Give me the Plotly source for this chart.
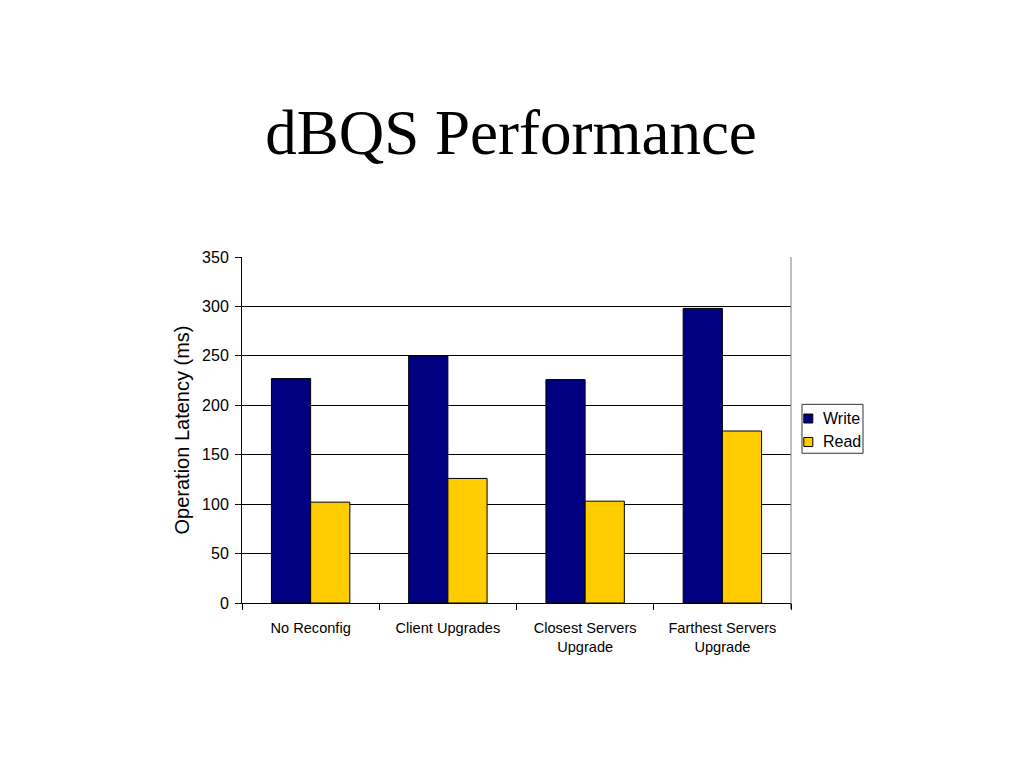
import plotly.graph_objects as go

categories = ["No Reconfig", "Client Upgrades", "Closest Servers<br>Upgrade", "Farthest Servers<br>Upgrade"]
series_names = ["Write", "Read"]
write_vals = [227, 250, 226, 298]
read_vals = [102, 126, 103, 174]
y_ticks = [0, 50, 100, 150, 200, 250, 300, 350]
colors = ["#000080", "#FFCC00"]

OFF = 8  # page body margin
L, R, T, B = 241.7 - OFF, 790.7 - OFF, 256.7 - OFF, 603.3 - OFF
W, H = 1024, 768
PW, PH = R - L, B - T

fig = go.Figure()
for name, vals, col in zip(series_names, [write_vals, read_vals], colors):
    fig.add_trace(go.Bar(name=name, x=categories, y=vals, showlegend=False,
                         marker=dict(color=col, line=dict(color="#000000", width=1))))

fig.update_layout(
    width=W, height=H,
    margin=dict(l=L, r=W - R, t=T, b=H - B, pad=0),
    paper_bgcolor="white", plot_bgcolor="white",
    barmode="group", bargap=1.5 / 3.5, bargroupgap=0,
    title=dict(text="dBQS Performance", x=(511 - OFF) / W, xanchor="center",
               y=1 - (133 - 9) / H, yanchor="middle", yref="container",
               font=dict(family="Liberation Serif, Times New Roman, serif", size=63, color="black")),
    font=dict(family="Liberation Sans, Arial, sans-serif", color="black"),
    xaxis=dict(showline=True, linecolor="black", linewidth=1, ticks="outside",
               tickson="boundaries", ticklen=6, tickcolor="black", ticklabelstandoff=11,
               tickfont=dict(size=14.6, color="black"), showgrid=False),
    yaxis=dict(range=[0, 350], tickvals=y_ticks, showline=True, linecolor="black", linewidth=1,
               ticks="outside", ticklen=6, tickcolor="black", showgrid=True, ticklabelstandoff=3,
               gridcolor="#000000", gridwidth=1, zeroline=False,
               tickfont=dict(size=16, color="black"),
               title=dict(text="Operation Latency (ms)", font=dict(size=20, color="black"), standoff=7)),
)
fig.add_shape(type="line", xref="paper", yref="paper", x0=1, x1=1, y0=0, y1=1,
              line=dict(color="#808080", width=1))
fig.add_shape(type="line", xref="paper", yref="paper", x0=1, x1=1, y0=0, y1=-6 / PH,
              line=dict(color="#000000", width=1))

# custom legend (reference pixel positions)
def px_x(x):
    return (x - OFF - L) / PW

def px_y(y):
    return (B - (y - OFF)) / PH

fig.add_shape(type="rect", xref="paper", yref="paper",
              x0=px_x(801.7), x1=px_x(862.7), y0=px_y(453.3), y1=px_y(404.3),
              line=dict(color="#333333", width=1), fillcolor="white")
for i, (name, col) in enumerate(zip(series_names, colors)):
    cy = 418.5 + i * 23.5
    fig.add_shape(type="rect", xref="paper", yref="paper",
                  x0=px_x(803.5), x1=px_x(812.5), y0=px_y(cy + 4.5), y1=px_y(cy - 4.5),
                  line=dict(color="#000000", width=1), fillcolor=col)
    fig.add_annotation(text=name, xref="paper", yref="paper", x=px_x(821), y=px_y(cy),
                       xanchor="left", yanchor="middle", showarrow=False,
                       font=dict(size=16, color="black"))

fig.write_html("out.html")
